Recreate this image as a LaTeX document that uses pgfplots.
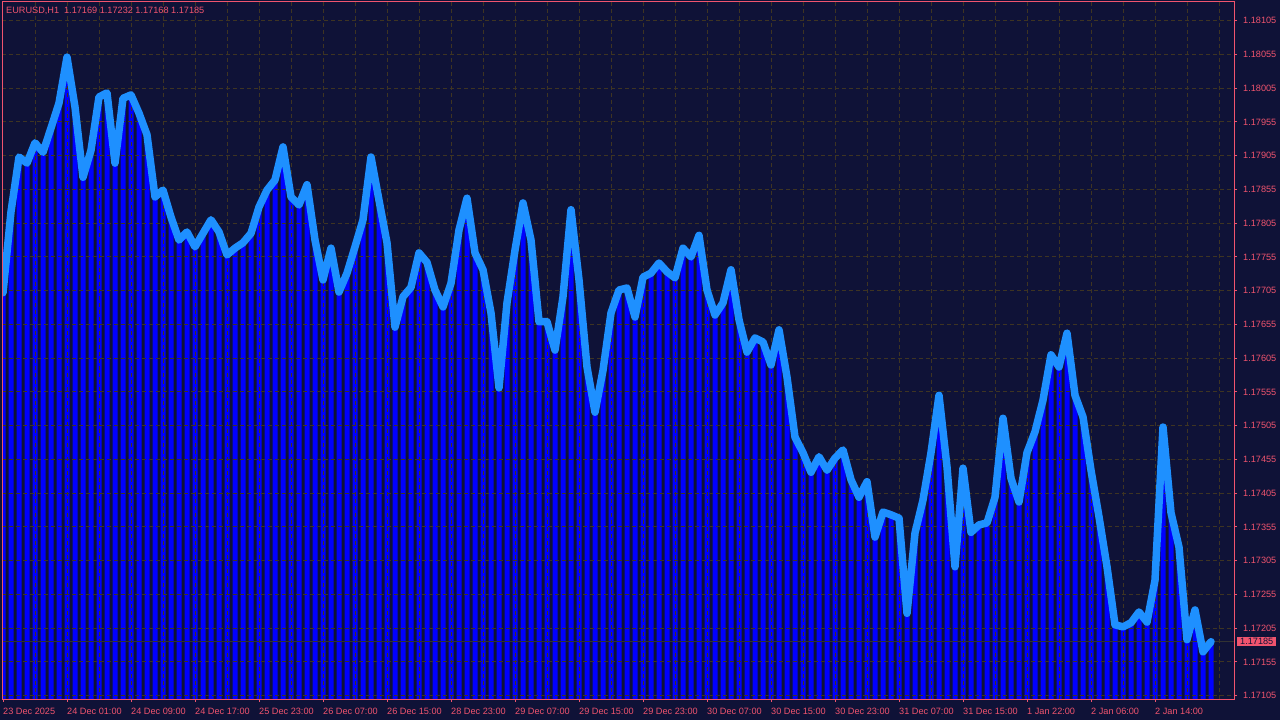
\documentclass[border=0pt]{standalone}
\usepackage{fontspec}
\setmainfont{Liberation Sans}
\usepackage{pgfplots}
\usepackage{pgfplotstable}
\pgfplotsset{compat=1.18}
\definecolor{bgc}{RGB}{15,18,55}
\definecolor{pinkc}{RGB}{240,84,110}
\definecolor{gridc}{RGB}{62,52,34}
\definecolor{linec}{RGB}{30,144,255}
\definecolor{barc}{RGB}{0,0,255}
\definecolor{closec}{RGB}{50,50,50}

\pgfplotstableread{
x y
0 702
1 822
2 903
3 894
4 924
5 910
6 946
7 983
8 1051
9 977
10 873
11 913
12 992
13 998
14 894
15 990
16 995
17 968
18 936
19 844
20 854
21 814
22 780
23 792
24 770
25 790
26 810
27 792
28 758
29 768
30 776
31 790
32 829
33 854
34 869
35 918
36 844
37 832
38 862
39 780
40 721
41 768
42 703
43 731
44 770
45 810
46 903
47 839
48 776
49 651
50 696
51 710
52 761
53 747
54 706
55 681
56 716
57 795
58 842
59 761
60 736
61 672
62 561
63 687
64 765
65 835
66 780
67 659
68 659
69 617
70 696
71 825
72 721
73 592
74 525
75 587
76 672
77 706
78 709
79 666
80 725
81 731
82 746
83 733
84 724
85 768
86 755
87 787
88 706
89 669
90 687
91 736
92 662
93 614
94 635
95 629
96 595
97 647
98 577
99 488
100 465
101 436
102 459
103 439
104 457
105 469
106 425
107 399
108 422
109 340
110 377
111 373
112 368
113 227
114 346
115 395
116 465
117 550
118 444
119 296
120 442
121 347
122 358
123 361
124 399
125 516
126 427
127 392
128 465
129 496
130 543
131 610
132 592
133 642
134 550
135 518
136 439
137 370
138 296
139 210
140 207
141 213
142 229
143 214
144 276
145 503
146 376
147 325
148 188
149 232
150 170
151 185
}\pricedata

\begin{document}
\begin{tikzpicture}
\fill[bgc] (0bp,0bp) rectangle (1280bp,720bp);
\begin{axis}[
  at={(2bp,21bp)}, anchor=south west,
  scale only axis,
  width=1232bp, height=697bp,
  xmin=-0.125, xmax=153.875,
  ymin=100.1, ymax=1132.7,
  axis line style={color=pinkc, line width=1bp},
  xtick={0,8,...,144},
  xticklabels={23 Dec 2025,24 Dec 01:00,24 Dec 09:00,24 Dec 17:00,25 Dec 23:00,26 Dec 07:00,26 Dec 15:00,28 Dec 23:00,29 Dec 07:00,29 Dec 15:00,29 Dec 23:00,30 Dec 07:00,30 Dec 15:00,30 Dec 23:00,31 Dec 07:00,31 Dec 15:00,1 Jan 22:00,2 Jan 06:00,2 Jan 14:00},
  ytick={105,155,...,1105},
  yticklabels={1.17105,1.17155,1.17205,1.17255,1.17305,1.17355,1.17405,1.17455,1.17505,1.17555,1.17605,1.17655,1.17705,1.17755,1.17805,1.17855,1.17905,1.17955,1.18005,1.18055,1.18105},
  xtick pos=bottom, ytick pos=right,
  yticklabel pos=right,
  tick align=outside,
  major tick length=3bp,
  tick style={color=pinkc, line width=1bp},
  ticklabel style={font=\fontsize{9.2}{11}\selectfont, text=pinkc, inner sep=0pt},
  xticklabel style={anchor=north west, yshift=-6bp},
  yticklabel style={anchor=west, xshift=6bp},
  /pgf/number format/assume math mode=true,
]
\addplot[ybar, bar width=5bp, fill=barc, draw=none, forget plot] table[x=x,y=y] {\pricedata};
\pgfplotsinvokeforeach{105,155,...,1105}{
  \addplot[color=gridc, line width=1bp, dash pattern=on 4bp off 3bp, forget plot] coordinates {(-0.125,#1) (153.875,#1)};
}
\pgfplotsinvokeforeach{4,8,...,152}{
  \addplot[color=gridc, line width=1bp, dash pattern=on 4bp off 3bp, forget plot] coordinates {(#1,100.1) (#1,1132.7)};
}
\addplot[color=closec, line width=1bp, forget plot] coordinates {(-0.125,185) (153.875,185)};
\addplot[color=linec, line width=7.5bp, line join=round, line cap=round] table[x=x,y=y] {\pricedata};
\draw[pinkc, line width=1bp] (rel axis cs:0,0) rectangle (rel axis cs:1,1);
\coordinate (closept) at (axis cs:153.875,185);
\end{axis}
\node[anchor=west, fill=pinkc, text=bgc, inner xsep=3bp, inner ysep=1.5bp, font=\fontsize{9.2}{11}\selectfont, xshift=3bp] at (closept) {1.17185};
\node[anchor=west, inner sep=0pt, text=pinkc, font=\fontsize{9.2}{11}\selectfont] at (6bp,709bp) {EURUSD,H1\hspace{5bp}1.17169 1.17232 1.17168 1.17185};
\end{tikzpicture}
\end{document}
